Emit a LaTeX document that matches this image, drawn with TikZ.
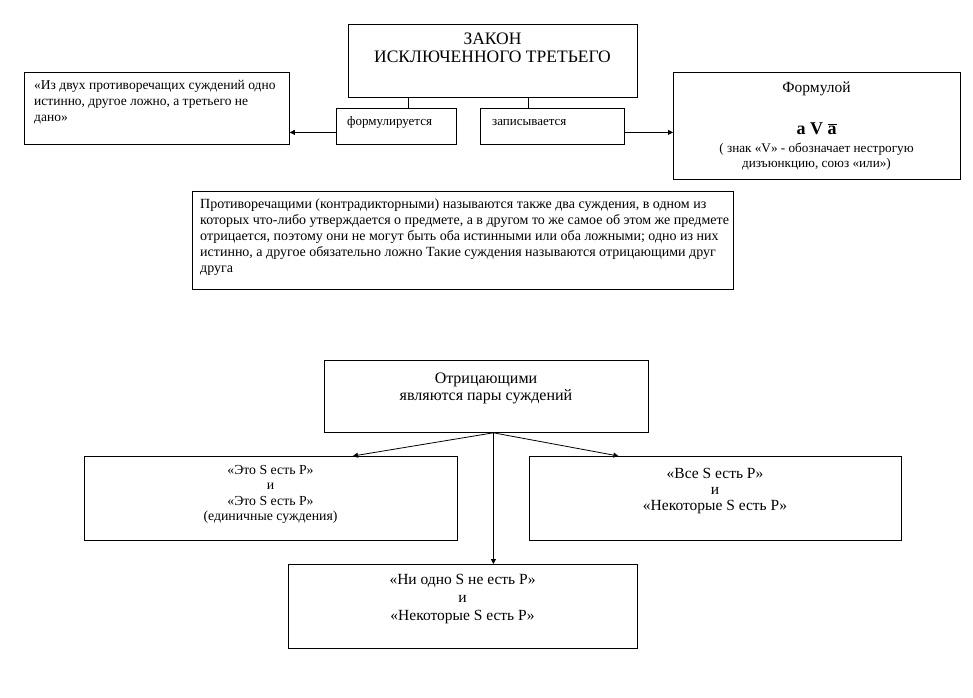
\documentclass[tikz,border=0pt]{standalone}
\usepackage{fontspec}
\setmainfont{Liberation Serif}
\usepackage{tikz}
\usetikzlibrary{arrows.meta}
\usetikzlibrary{positioning}

\begin{document}
\begin{tikzpicture}[x=1pt,y=-1pt,
	box/.style={draw,rectangle,line width=0.8pt,inner sep=0pt,anchor=north west},
	txt/.style={inner sep=0pt,align=center,anchor=base},
	ltxt/.style={inner sep=0pt,align=left,anchor=base west},
	arr/.style={line width=0.8pt,-{Triangle[length=5pt,width=5pt]}}]
	\useasboundingbox (0,0) rectangle (973,697);

	% upper part (text nodes sit on the baseline of their last line)
	\node[box,minimum width=289pt,minimum height=73pt] (zakon) at (348,24) {};
	\node[txt,font=\fontsize{17.5}{18}\selectfont] (zakont) at (492.5,62) {ЗАКОН\\ИСКЛЮЧЕННОГО ТРЕТЬЕГО};

	\node[box,minimum width=265pt,minimum height=72pt] (quote) at (24,72) {};
	\node[ltxt,font=\fontsize{13.5}{16}\selectfont] (quotet) at (34,121) {«Из двух противоречащих суждений одно\\истинно, другое ложно, а третьего не\\дано»};

	\node[box,minimum width=120pt,minimum height=36pt] (form) at (336,108) {};
	\node[ltxt,font=\fontsize{13}{14}\selectfont] (formt) at (347,125) {формулируется};

	\node[box,minimum width=144pt,minimum height=36pt] (zap) at (480,108) {};
	\node[ltxt,font=\fontsize{13}{14}\selectfont] (zapt) at (492,125) {записывается};

	\node[box,minimum width=287pt,minimum height=107pt] (formula) at (673,72) {};
	\node[txt,font=\fontsize{15.5}{16}\selectfont] (formulat) at (816.5,92) {Формулой};
	\node[txt,font=\fontsize{18}{20}\selectfont\bfseries] (avnota) at (816.5,134) {a V $\overline{\textbf{a}}$};
	\node[txt,font=\fontsize{13.2}{15}\selectfont] (znak) at (816.5,167) {( знак «V» - обозначает нестрогую\\дизъюнкцию, союз «или»)};

	\node[box,minimum width=541pt,minimum height=98pt] (contra) at (192,191) {};
	\node[ltxt,font=\fontsize{14}{16}\selectfont] (contrat) at (200,272) {Противоречащими (контрадикторными) называются также два суждения, в одном из\\которых что-либо утверждается о предмете, а в другом то же самое об этом же предмете\\отрицается, поэтому они не могут быть оба истинными или оба ложными; одно из них\\истинно, а другое обязательно ложно Такие суждения называются отрицающими друг\\друга};

	\draw[line width=0.8pt] ([xshift=12pt]form.north) -- ([xshift=12pt]form.north |- zakon.south);
	\draw[line width=0.8pt] ([xshift=-24pt]zap.north) -- ([xshift=-24pt]zap.north |- zakon.south);
	\draw[arr] ([yshift=-6pt]form.west) -- ([yshift=-6pt]form.west -| quote.east);
	\draw[arr] ([yshift=-6pt]zap.east) -- ([yshift=-6pt]zap.east -| formula.west);

	% lower part
	\node[box,minimum width=324pt,minimum height=72pt] (otr) at (324,360) {};
	\node[txt,font=\fontsize{16}{17}\selectfont] (otrt) at (486,400) {Отрицающими\\являются пары суждений};

	\node[box,minimum width=373pt,minimum height=84pt] (ed) at (84,456) {};
	\node[txt,font=\fontsize{13.8}{15.5}\selectfont] (edt) at (270.5,520.5) {«Это S есть P»\\и\\«Это S есть P»\\(единичные суждения)};

	\node[box,minimum width=372pt,minimum height=84pt] (vse) at (529,456) {};
	\node[txt,font=\fontsize{15.5}{16}\selectfont] (vset) at (715,510) {«Все S есть P»\\и\\«Некоторые S есть P»};

	\node[box,minimum width=349pt,minimum height=84pt] (ni) at (288,564) {};
	\node[txt,font=\fontsize{15.5}{18}\selectfont] (nit) at (462.5,620) {«Ни одно S не есть P»\\и\\«Некоторые S есть P»};

	\coordinate (split) at ([xshift=7pt]otr.south);
	\draw[arr] (split) -- ([xshift=82pt]ed.north);
	\draw[arr] (split) -- ([xshift=-97pt]vse.north);
	\draw[arr] (split) -- (split |- ni.north);
\end{tikzpicture}
\end{document}
